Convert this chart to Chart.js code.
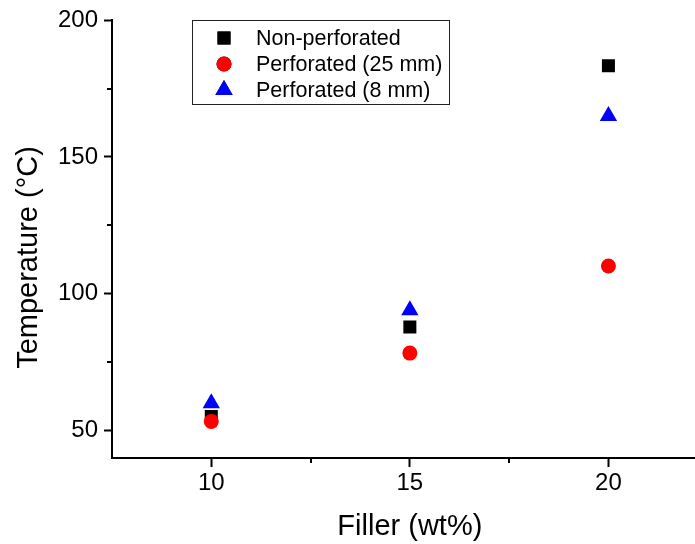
<!DOCTYPE html>
<html>
<head>
<meta charset="utf-8">
<script src="https://cdn.jsdelivr.net/npm/chart.js@4/dist/chart.umd.min.js"></script>
<style>
  html, body { margin: 0; padding: 0; background: #fff; overflow: hidden; width: 695px; height: 544px; }
  #wrap { position: relative; width: 707px; height: 544px; }
</style>
</head>
<body>
<div id="wrap"><canvas id="chart"></canvas></div>
<script>
// Filler content (wt%)
const fillerWt = [10, 15, 20];
// Temperature (°C) for each sample type
const nonPerforated = [55.0, 87.8, 183.4];
const perforated25 = [53.2, 78.2, 110.1];
const perforated8 = [59.8, 93.9, 165.0];

const xMajorTicks = [10, 15, 20];
const xMinorTicks = [12.5, 17.5];
const yMajorTicks = [50, 100, 150, 200];
const yMinorTicks = [75, 125, 175];

const seriesNames = ['Non-perforated', 'Perforated (25 mm)', 'Perforated (8 mm)'];

const FONT = '"Liberation Sans", Arial, Helvetica, sans-serif';

function points(ys) {
  return fillerWt.map((x, i) => ({ x: x, y: ys[i] }));
}

const datasets = [
  { label: seriesNames[0], data: points(nonPerforated), pointStyle: 'rect',
    pointRadius: 9.2, backgroundColor: '#000000', borderWidth: 0, order: 1 },
  { label: seriesNames[1], data: points(perforated25), pointStyle: 'circle',
    pointRadius: 7.5, backgroundColor: '#ff0000', borderWidth: 0, order: 0 },
  { label: seriesNames[2], data: points(perforated8), pointStyle: 'triangle',
    pointRadius: 10, backgroundColor: '#0000ff', borderWidth: 0, order: 2 }
];

// Minor ticks, axis titles and the framed legend
const decorations = {
  id: 'decorations',
  afterDraw(chart) {
    const ctx = chart.ctx;
    const xs = chart.scales.x, ys = chart.scales.y;
    const area = chart.chartArea;
    ctx.save();
    ctx.strokeStyle = '#000';
    ctx.lineWidth = 2;
    ctx.beginPath();
    xMinorTicks.forEach(v => {
      const px = Math.round(xs.getPixelForValue(v));
      ctx.moveTo(px, area.bottom);
      ctx.lineTo(px, area.bottom + 5);
    });
    yMinorTicks.forEach(v => {
      const py = Math.round(ys.getPixelForValue(v));
      ctx.moveTo(area.left, py);
      ctx.lineTo(area.left - 5, py);
    });
    ctx.stroke();

    // axis titles
    ctx.fillStyle = '#000';
    ctx.font = '29px ' + FONT;
    ctx.textAlign = 'center';
    ctx.textBaseline = 'middle';
    ctx.fillText('Filler (wt%)', xs.getPixelForValue(15), 527);
    ctx.save();
    ctx.translate(29, 257.5);
    ctx.rotate(-Math.PI / 2);
    ctx.fillText('Temperature (°C)', 0, 0);
    ctx.restore();

    // legend
    const lx = 192, ly = 20, lw = 257, lh = 84;
    ctx.lineWidth = 1;
    ctx.strokeStyle = '#222';
    ctx.strokeRect(lx + 0.5, ly + 0.5, lw, lh);
    ctx.font = '21.5px ' + FONT;
    ctx.textAlign = 'left';
    ctx.textBaseline = 'middle';
    const rows = [38, 64, 90];
    datasets.forEach((ds, i) => {
      Chart.helpers.drawPoint(ctx, {
        pointStyle: ds.pointStyle,
        radius: ds.pointRadius,
        rotation: 0,
        borderWidth: 0
      }, 224, rows[i]);
      ctx.fillStyle = ds.backgroundColor;
      ctx.fill();
      ctx.fillStyle = '#000';
      ctx.fillText(ds.label, 256, rows[i] + 1);
    });
    ctx.restore();
  }
};

new Chart(document.getElementById('chart'), {
  type: 'scatter',
  data: { datasets: datasets },
  options: {
    responsive: true,
    maintainAspectRatio: false,
    animation: false,
    events: [],
    layout: { padding: { top: 20, right: 0, bottom: 0, left: 0 } },
    plugins: { legend: { display: false }, tooltip: { enabled: false } },
    scales: {
      x: {
        type: 'linear',
        min: 7.5,
        max: 22.23,
        afterBuildTicks: s => { s.ticks = xMajorTicks.map(v => ({ value: v })); },
        afterFit: s => { s.height = 86; },
        ticks: { color: '#000', font: { family: FONT, size: 24 }, padding: 2 },
        grid: { drawOnChartArea: false, drawTicks: true, tickLength: 9,
                tickColor: '#000', tickWidth: 2 },
        border: { display: true, color: '#000', width: 2 }
      },
      y: {
        type: 'linear',
        min: 39.8,
        max: 200,
        afterBuildTicks: s => { s.ticks = yMajorTicks.map(v => ({ value: v })); },
        afterFit: s => { s.width = 112; },
        ticks: { color: '#000', font: { family: FONT, size: 24 }, padding: 6 },
        grid: { drawOnChartArea: false, drawTicks: true, tickLength: 8,
                tickColor: '#000', tickWidth: 2 },
        border: { display: true, color: '#000', width: 2 }
      }
    }
  },
  plugins: [decorations]
});
</script>
</body>
</html>
